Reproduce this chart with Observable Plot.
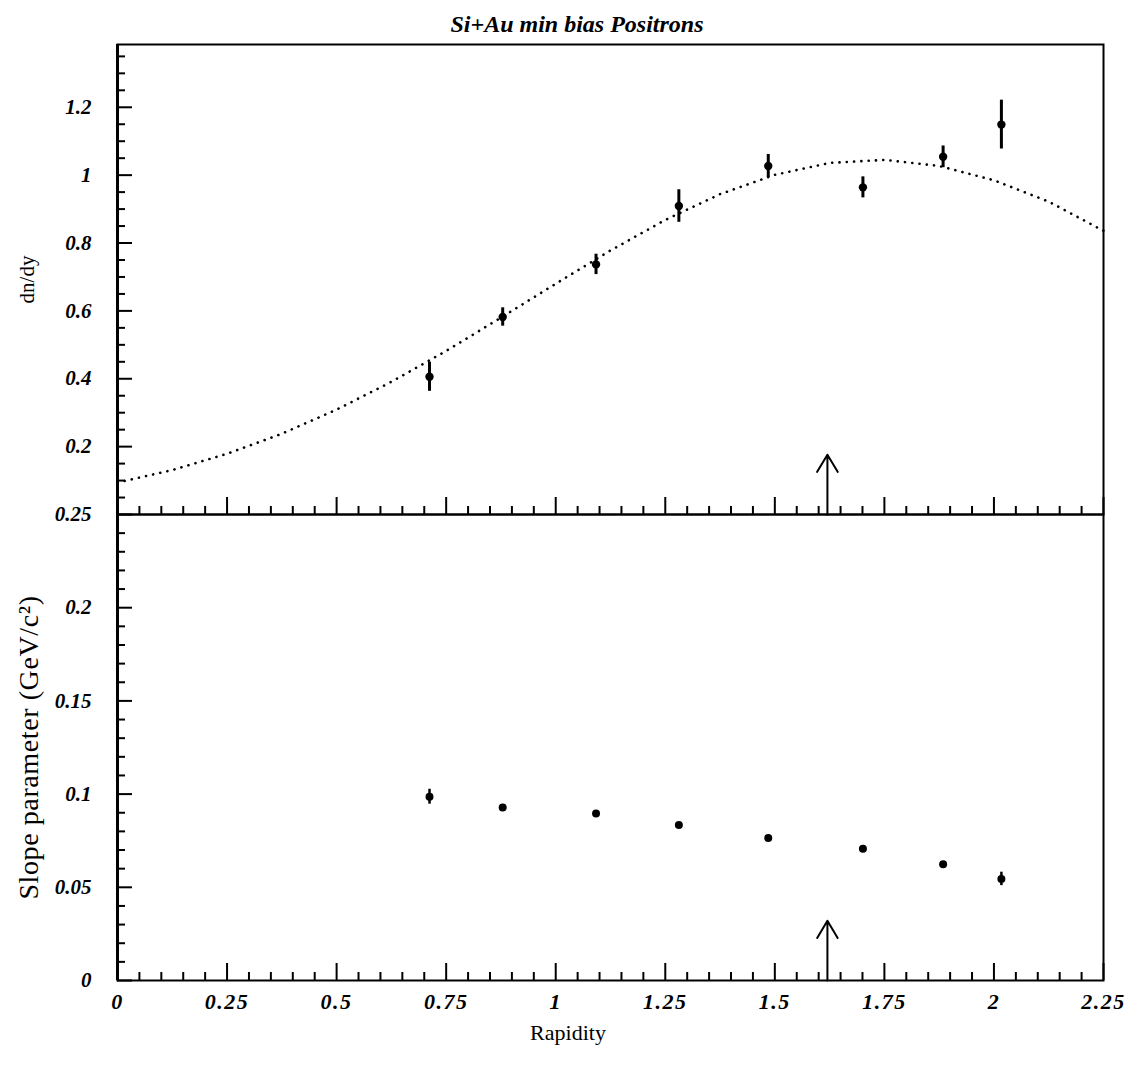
<!DOCTYPE html>
<html>
<head>
<meta charset="utf-8">
<script src="https://cdn.jsdelivr.net/npm/d3@7"></script>
<script src="https://cdn.jsdelivr.net/npm/@observablehq/plot@0.6"></script>
<style>
  body { margin: 0; background: #fff; }
  #wrap { position: relative; width: 1130px; height: 1075px; font-family: "Liberation Serif", "DejaVu Serif", serif; color: #000; }
  #title { position: absolute; left: 0; width: 1154px; top: 11px; line-height: 26px; text-align: center; font: italic bold 24px "Liberation Serif", serif; }
  #xlabel { position: absolute; left: 0; width: 1136px; top: 1020px; line-height: 26px; text-align: center; font: 22px "Liberation Serif", serif; }
  #p1, #p2 { position: absolute; left: 0; }
  #p1 { top: 42px; }
  #p2 { top: 500px; }
  svg g[aria-label="y-axis tick label"] { font: italic bold 21px "Liberation Serif", serif; }
  svg g[aria-label="x-axis tick label"] { font: italic bold 22px "Liberation Serif", serif; letter-spacing: 1.5px; }
  #p1 svg g[aria-label="y-axis label"] { font: 21px "Liberation Serif", serif; }
  #p2 svg g[aria-label="y-axis label"] { font: 28px "Liberation Serif", serif; letter-spacing: 0.6px; }
</style>
</head>
<body>
<div id="wrap">
  <div id="title">Si+Au min bias Positrons</div>
  <div id="p1"></div>
  <div id="p2"></div>
  <div id="xlabel">Rapidity</div>
</div>
<script>
// ---- data ----
const rapidity = [0.712, 0.879, 1.092, 1.281, 1.485, 1.701, 1.884, 2.017];
const dndy     = [0.406, 0.582, 0.737, 0.909, 1.027, 0.964, 1.054, 1.149];
const dndyErr  = [0.043, 0.027, 0.030, 0.048, 0.034, 0.031, 0.032, 0.072];
const slope    = [0.0986, 0.0928, 0.0896, 0.0834, 0.0764, 0.0707, 0.0623, 0.0545];
const slopeErr = [0.0040, 0.0015, 0.0010, 0.0010, 0.0010, 0.0010, 0.0010, 0.0036];
// dotted fit curve, read at regular rapidity steps
const fitX = [0, 0.125, 0.25, 0.375, 0.5, 0.625, 0.75, 0.875, 1.0, 1.125, 1.25, 1.375, 1.5, 1.625, 1.75, 1.875, 2.0, 2.125, 2.25];
const fitY = [0.094, 0.131, 0.179, 0.238, 0.309, 0.391, 0.482, 0.580, 0.680, 0.778, 0.868, 0.944, 1.001, 1.036, 1.045, 1.027, 0.985, 0.922, 0.836];
// arrow marker (mid-rapidity) and its tip heights in each panel
const arrowX = [1.62];
const arrowTopTip = 0.176;
const arrowBottomTip = 0.032;

// ---- tick labels ----
const xMajor = [0, 0.25, 0.5, 0.75, 1, 1.25, 1.5, 1.75, 2, 2.25];
const topYMajor = [0.2, 0.4, 0.6, 0.8, 1, 1.2];
const botYMajor = [0, 0.05, 0.1, 0.15, 0.2, 0.25];

const r4 = v => Math.round(v * 10000) / 10000;
const xMinor = d3.range(0, 46).map(i => r4(i * 0.05)).filter(v => !xMajor.includes(v));
const topYMinor = d3.range(1, 28).map(i => r4(i * 0.05)).filter(v => !topYMajor.includes(v));
const botYMinor = d3.range(0, 26).map(i => r4(i * 0.01)).filter(v => !botYMajor.includes(v));

const pts = rapidity.map((x, i) => ({x, y: dndy[i], e: dndyErr[i], s: slope[i], se: slopeErr[i]}));
const fit = fitX.map((x, i) => ({x, y: fitY[i]}));
const fmt = d3.format("~g");

const common = {
  width: 1130,
  marginLeft: 117,
  marginRight: 27,
  x: {domain: [0, 2.25], axis: null},
  style: {background: "transparent", overflow: "visible"}
};

const topPlot = Plot.plot({
  ...common,
  height: 480,
  marginTop: 2,
  marginBottom: 8,
  y: {domain: [0, 1.385], axis: null},
  marks: [
    Plot.frame({strokeWidth: 2}),
    Plot.ruleX([0], {strokeWidth: 3}),
    Plot.axisX({ticks: xMajor, anchor: "bottom", tickSize: -17, fill: "none", label: null, strokeWidth: 2}),
    Plot.axisX({ticks: xMinor, anchor: "bottom", tickSize: -8, fill: "none", label: null, strokeWidth: 2}),
    Plot.axisY({ticks: topYMajor, anchor: "left", tickSize: -15, tickPadding: 41, tickFormat: fmt, strokeWidth: 2,
      label: "dn/dy", labelAnchor: "center", labelOffset: 98, labelArrow: "none"}),
    Plot.axisY({ticks: topYMinor, anchor: "left", tickSize: -8, fill: "none", label: null, strokeWidth: 2}),
    Plot.line(fit, {x: "x", y: "y", strokeWidth: 2.6, strokeDasharray: "0.1 7.2", strokeLinecap: "round"}),
    Plot.ruleX(pts, {x: "x", y1: d => d.y - d.e, y2: d => d.y + d.e, strokeWidth: 3}),
    Plot.dot(pts, {x: "x", y: "y", r: 4.2, fill: "black", stroke: null}),
    Plot.arrow(arrowX, {x1: d => d, x2: d => d, y1: () => 0, y2: () => arrowTopTip, headLength: 27, headAngle: 62, strokeWidth: 2})
  ]
});

const bottomPlot = Plot.plot({
  ...common,
  height: 520,
  marginTop: 14,
  marginBottom: 40,
  y: {domain: [0, 0.25], axis: null},
  marks: [
    Plot.frame({strokeWidth: 2}),
    Plot.ruleX([0], {strokeWidth: 3}),
    Plot.axisX({ticks: xMajor, anchor: "bottom", tickSize: -17, tickPadding: 30, tickFormat: fmt, label: null, strokeWidth: 2}),
    Plot.axisX({ticks: xMinor, anchor: "bottom", tickSize: -8, fill: "none", label: null, strokeWidth: 2}),
    Plot.axisY({ticks: botYMajor, anchor: "left", tickSize: -15, tickPadding: 41, tickFormat: fmt, strokeWidth: 2,
      label: "Slope parameter (GeV/c²)", labelAnchor: "center", labelOffset: 99, labelArrow: "none"}),
    Plot.axisY({ticks: botYMinor, anchor: "left", tickSize: -8, fill: "none", label: null, strokeWidth: 2}),
    Plot.ruleX(pts, {x: "x", y1: d => d.s - d.se, y2: d => d.s + d.se, strokeWidth: 2.5}),
    Plot.dot(pts, {x: "x", y: "s", r: 4, fill: "black", stroke: null}),
    Plot.arrow(arrowX, {x1: d => d, x2: d => d, y1: () => 0, y2: () => arrowBottomTip, headLength: 27, headAngle: 62, strokeWidth: 2})
  ]
});

document.getElementById("p1").appendChild(topPlot);
document.getElementById("p2").appendChild(bottomPlot);
</script>
</body>
</html>
